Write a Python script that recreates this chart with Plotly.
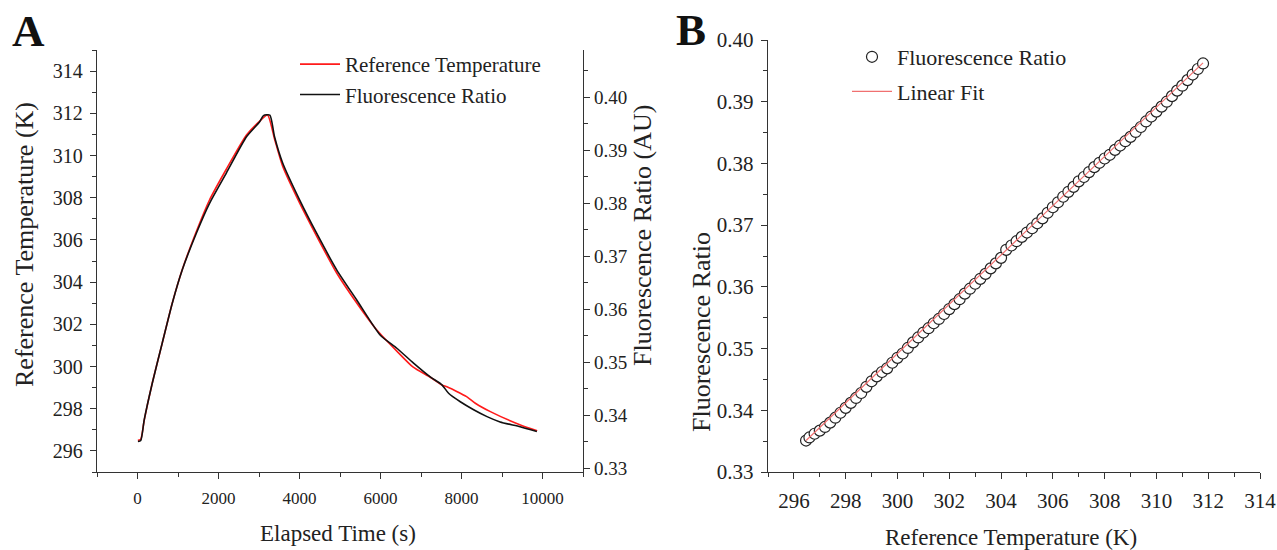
import plotly.graph_objects as go

# ---------------- Panel A data ----------------
time_ref = [10, 80, 166, 365, 611, 859, 1106, 1453, 1775, 2196, 2691, 3012, 3210,
            3384, 3582, 4002, 4423, 4918, 5413, 5908, 6403, 6799, 7228, 7517, 7641,
            7970, 8151, 8342, 8713, 9455, 9869]
temp_ref = [296.50, 296.55, 297.46, 299.22, 301.11, 303.01, 304.60, 306.40, 307.88,
            309.36, 310.97, 311.62, 311.92, 310.78, 309.50, 307.75, 306.18, 304.43,
            303.01, 301.73, 300.73, 299.98, 299.49, 299.12, 299.04, 298.73, 298.54,
            298.26, 297.86, 297.23, 296.96]

time_fr = [10, 80, 166, 365, 611, 859, 1106, 1453, 1775, 2196, 2691, 3012, 3110, 3267,
           3384, 3582, 4002, 4423, 4918, 5413, 5990, 6403, 6815, 7228, 7517, 7681,
           7970, 8300, 8630, 8953, 9448, 9861]
ratio_fr = [0.3350, 0.3352, 0.3391, 0.3460, 0.3536, 0.3611, 0.3674, 0.3743, 0.3799,
            0.3857, 0.3925, 0.3953, 0.3965, 0.3966, 0.3925, 0.3876, 0.3806, 0.3743,
            0.3674, 0.3617, 0.3551, 0.3526, 0.3498, 0.3472, 0.3457, 0.3441, 0.3425,
            0.3410, 0.3397, 0.3387, 0.3378, 0.3369]

# ---------------- Panel B data ----------------
temp_b = [296.47, 296.6, 296.8, 297.0, 297.2, 297.4, 297.6, 297.8, 298.0, 298.2, 298.4,
          298.6, 298.8, 299.0, 299.2, 299.4, 299.6, 299.8, 300.0, 300.2, 300.4, 300.6,
          300.8, 301.0, 301.2, 301.4, 301.6, 301.8, 302.0, 302.2, 302.4, 302.6, 302.8,
          303.0, 303.2, 303.4, 303.6, 303.8, 304.0, 304.2, 304.4, 304.6, 304.8, 305.0,
          305.2, 305.4, 305.6, 305.8, 306.0, 306.2, 306.4, 306.6, 306.8, 307.0, 307.2,
          307.4, 307.6, 307.8, 308.0, 308.2, 308.4, 308.6, 308.8, 309.0, 309.2, 309.4,
          309.6, 309.8, 310.0, 310.2, 310.4, 310.6, 310.8, 311.0, 311.2, 311.4, 311.6,
          311.8]
ratio_b = [0.3351, 0.3356, 0.3362, 0.3367, 0.3373, 0.3380, 0.3388, 0.3396, 0.3404,
           0.3412, 0.3420, 0.3428, 0.3438, 0.3447, 0.3455, 0.3462, 0.3468, 0.3477,
           0.3485, 0.3492, 0.3501, 0.3510, 0.3518, 0.3526, 0.3533, 0.3541, 0.3548,
           0.3556, 0.3564, 0.3572, 0.3580, 0.3589, 0.3597, 0.3605, 0.3613, 0.3621,
           0.3630, 0.3638, 0.3647, 0.3660, 0.3667, 0.3674, 0.3681, 0.3688, 0.3695,
           0.3703, 0.3711, 0.3720, 0.3729, 0.3737, 0.3746, 0.3754, 0.3762, 0.3771,
           0.3778, 0.3786, 0.3794, 0.3801, 0.3808, 0.3814, 0.3822, 0.3829, 0.3836,
           0.3843, 0.3851, 0.3859, 0.3868, 0.3876, 0.3884, 0.3892, 0.3900, 0.3909,
           0.3918, 0.3926, 0.3935, 0.3944, 0.3953, 0.3962]

fit_temp = [296.47, 311.8]
fit_ratio = [0.3351, 0.3963]

W, H = 1277, 550
FONT = "Liberation Serif"
AX = "#333333"
TXT = "#222222"

def px(x):
    return x / W

def py(y):
    return 1 - y / H

fig = go.Figure()

fig.add_trace(go.Scatter(x=time_ref, y=temp_ref, mode="lines", name="Reference Temperature",
                         line=dict(color="#ff1a1a", width=1.6, shape="spline", smoothing=0.6),
                         xaxis="x", yaxis="y", legend="legend", legendgroup="a1"))
fig.add_trace(go.Scatter(x=time_fr, y=ratio_fr, mode="lines", name="Fluorescence Ratio",
                         line=dict(color="#111111", width=1.6, shape="spline", smoothing=0.6),
                         xaxis="x", yaxis="y2", legend="legend", legendgroup="a2"))

fig.add_trace(go.Scatter(x=temp_b, y=ratio_b, mode="markers", name="Fluorescence Ratio",
                         marker=dict(symbol="circle", size=11, color="white",
                                     line=dict(color="#222222", width=1.2)),
                         xaxis="x2", yaxis="y3", legend="legend2", legendgroup="b1"))
fig.add_trace(go.Scatter(x=fit_temp, y=fit_ratio, mode="lines", name="Linear Fit",
                         line=dict(color="#f07070", width=1.2),
                         xaxis="x2", yaxis="y3", legend="legend2", legendgroup="b2"))

def axis_common(size):
    return dict(showline=True, linecolor=AX, linewidth=1.4, ticks="outside", ticklen=6,
                tickwidth=1.4, tickcolor=AX, showgrid=False, zeroline=False,
                automargin=False,
                tickfont=dict(family=FONT, size=size, color=TXT))

def minor(dt, t0):
    return dict(dtick=dt, tick0=t0, ticklen=4, ticks="outside", tickcolor=AX, tickwidth=1.2)

fig.update_layout(
    width=W, height=H, margin=dict(l=0, r=0, t=0, b=0, autoexpand=False),
    paper_bgcolor="white", plot_bgcolor="white",
    font=dict(family=FONT, color=TXT),
    xaxis=dict(domain=[px(97), px(583)], anchor="y", range=[-1000, 11000],
               tick0=0, dtick=2000, tickformat="d", ticklabelstandoff=4,
               minor=minor(1000, 0), **axis_common(17)),
    yaxis=dict(domain=[py(472), py(50)], anchor="x", range=[295, 315],
               tick0=296, dtick=2, ticklabelstandoff=3,
               minor=minor(1, 295), **axis_common(20)),
    yaxis2=dict(domain=[py(472), py(50)], anchor="x", overlaying="y", side="right",
                range=[0.32925, 0.40887], tick0=0.33, dtick=0.01, tickformat=".2f",
                ticklabelstandoff=0, minor=minor(0.005, 0.33), **axis_common(19)),
    xaxis2=dict(domain=[px(768), px(1260)], anchor="y3", range=[295, 314],
                tick0=296, dtick=2, ticklabelstandoff=4,
                minor=minor(1, 295), **axis_common(21)),
    yaxis3=dict(domain=[py(472), py(40)], anchor="x2", range=[0.33, 0.40],
                tick0=0.33, dtick=0.01, tickformat=".2f", ticklabelstandoff=3,
                minor=minor(0.005, 0.33), **axis_common(21)),
    legend=dict(x=px(295), y=py(44), xanchor="left", yanchor="top", bgcolor="rgba(0,0,0,0)",
                font=dict(family=FONT, size=21, color=TXT), tracegroupgap=0,
                itemwidth=40),
    legend2=dict(x=px(847), y=py(36), xanchor="left", yanchor="top", bgcolor="rgba(0,0,0,0)",
                 font=dict(family=FONT, size=22, color=TXT), tracegroupgap=3,
                 itemwidth=40),
    showlegend=True,
)

annotations = [
    dict(text="<b>A</b>", x=px(28), y=py(31), font=dict(size=45)),
    dict(text="<b>B</b>", x=px(691), y=py(30), font=dict(size=45)),
    dict(text="Elapsed Time (s)", x=px(338), y=py(533), font=dict(size=23)),
    dict(text="Reference Temperature (K)", x=px(24), y=py(245), font=dict(size=26), textangle=-90),
    dict(text="Fluorescence Ratio (AU)", x=px(642), y=py(236), font=dict(size=26), textangle=-90),
    dict(text="Reference Temperature (K)", x=px(1011), y=py(537), font=dict(size=23)),
    dict(text="Fluorescence Ratio", x=px(701), y=py(332), font=dict(size=26), textangle=-90),
]
for a in annotations:
    a.update(xref="paper", yref="paper", showarrow=False, xanchor="center", yanchor="middle")
    a["font"] = dict(family=FONT, color="#111111" if "<b>" in a["text"] else TXT, **a["font"])
fig.update_layout(annotations=annotations)

# remove the default 8 px page margin so the 1277x550 figure fills the window exactly
fig.write_html("out.html",
               config={"displayModeBar": False},
               post_script="document.body.style.margin='0';document.body.style.overflow='hidden';")
